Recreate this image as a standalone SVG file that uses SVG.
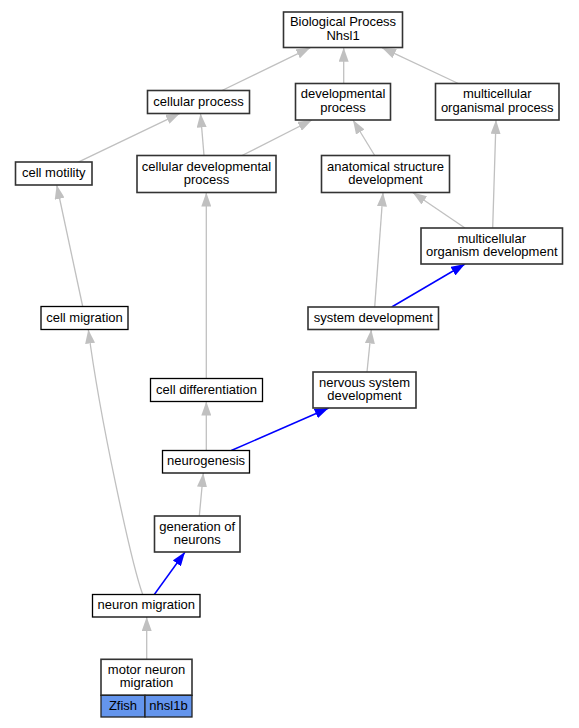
<svg xmlns="http://www.w3.org/2000/svg" width="579" height="728" viewBox="0 0 579 728">
<style>
text{font-family:"Liberation Sans",Arial,sans-serif;font-size:13px;fill:#000;text-anchor:middle}
.n{fill:#fff;stroke:#333;stroke-width:1.6}
.k{fill:#fff;stroke:#000;stroke-width:1.3}
.c{fill:#6495ED;stroke:#222;stroke-width:1.3}
.e{fill:none;stroke:#c0c0c0;stroke-width:1.3;marker-end:url(#ag)}
.b{fill:none;stroke:#0000ff;stroke-width:1.5;marker-end:url(#ab)}
</style>
<defs>
<marker id="ag" viewBox="0 0 14 10" refX="14" refY="5" markerWidth="14" markerHeight="10" markerUnits="userSpaceOnUse" orient="auto"><path d="M0,0L14,5L0,10z" fill="#c0c0c0"/></marker>
<marker id="ab" viewBox="0 0 14 10" refX="14" refY="5" markerWidth="14" markerHeight="10" markerUnits="userSpaceOnUse" orient="auto"><path d="M0,0L14,5L0,10z" fill="#0000ff"/></marker>
</defs>
<rect width="579" height="728" fill="#fff"/>
<g id="edges">
<path class="e" d="M222,90.5L310.3,47.7"/>
<path class="e" d="M343.7,83.5L343.7,47.7"/>
<path class="e" d="M458.3,83.5L382,47.7"/>
<path class="e" d="M77.7,162.3L180,113.3"/>
<path class="e" d="M204,155.5L200.5,113.5"/>
<path class="e" d="M242,155.5L312,120"/>
<path class="e" d="M374.7,155.5L353,120"/>
<path class="e" d="M492.7,228L496,120"/>
<path class="e" d="M465,228L412.7,192.5"/>
<path class="e" d="M82.7,306.5L56.7,185"/>
<path class="e" d="M374.7,307L383,192.5"/>
<path class="b" d="M391.7,307L465,264"/>
<path class="e" d="M206.3,378.5L206.3,192.5"/>
<path class="e" d="M367,372L371.3,329.5"/>
<path class="e" d="M206.3,450.5L206.3,401.5"/>
<path class="b" d="M231.3,450.5L328.7,408"/>
<path class="e" d="M199.3,516L203.3,473"/>
<path class="b" d="M154.3,594.5L185,552"/>
<path class="e" d="M142.7,594.5C132,565 100,420 88.3,329.5"/>
<path class="e" d="M146.7,659.3L146.7,617"/>
</g>
<g id="bio"><rect class="n" x="283.5" y="12" width="119" height="35.5"/><text x="343" y="26.3">Biological Process</text><text x="343" y="39.8">Nhsl1</text></g>
<g id="cellular_process"><rect class="n" x="147.5" y="90.5" width="102" height="23"/><text x="198.5" y="105.5">cellular process</text></g>
<g id="developmental_process"><rect class="n" x="295.5" y="83.5" width="95" height="36.5"/><text x="343" y="98.3">developmental</text><text x="343" y="111.8">process</text></g>
<g id="multicellular_organismal_process"><rect class="n" x="435.5" y="83.5" width="123.5" height="36.5"/><text x="497.25" y="98.3">multicellular</text><text x="497.25" y="111.8">organismal process</text></g>
<g id="cell_motility"><rect class="n" x="15.5" y="162" width="76.5" height="23"/><text x="53.75" y="177">cell motility</text></g>
<g id="cellular_developmental_process"><rect class="n" x="137" y="155.5" width="139" height="37"/><text x="206.5" y="170.5">cellular developmental</text><text x="206.5" y="184">process</text></g>
<g id="anatomical_structure_development"><rect class="n" x="321.5" y="155.5" width="128" height="37"/><text x="385.5" y="170.5">anatomical structure</text><text x="385.5" y="184">development</text></g>
<g id="multicellular_organism_development"><rect class="n" x="421" y="228" width="141.5" height="36"/><text x="491.75" y="242.5">multicellular</text><text x="491.75" y="256">organism development</text></g>
<g id="cell_migration"><rect class="k" x="41" y="306.5" width="87" height="23"/><text x="84.5" y="321.5">cell migration</text></g>
<g id="system_development"><rect class="n" x="308" y="307" width="130.5" height="22.5"/><text x="373.25" y="321.7">system development</text></g>
<g id="cell_differentiation"><rect class="k" x="150.5" y="378.5" width="112" height="23"/><text x="206.5" y="393.5">cell differentiation</text></g>
<g id="nervous_system_development"><rect class="n" x="313" y="372" width="103" height="36"/><text x="364.5" y="386.5">nervous system</text><text x="364.5" y="400">development</text></g>
<g id="neurogenesis"><rect class="k" x="162.5" y="450.5" width="87" height="22.5"/><text x="206" y="465.2">neurogenesis</text></g>
<g id="generation_of_neurons"><rect class="n" x="154.5" y="516" width="85.5" height="36"/><text x="197.25" y="530.5">generation of</text><text x="197.25" y="544">neurons</text></g>
<g id="neuron_migration"><rect class="k" x="92.5" y="594.5" width="107.5" height="22.5"/><text x="146.25" y="609.2">neuron migration</text></g>
<g id="motor_neuron_migration"><rect class="n" x="101" y="659.3" width="91" height="36"/><text x="146.5" y="673.8">motor neuron</text><text x="146.5" y="687.3">migration</text><rect class="c" x="101" y="695.3" width="44" height="21.7"/><rect class="c" x="145" y="695.3" width="47" height="21.7"/><text x="123" y="710.3">Zfish</text><text x="168.5" y="710.3">nhsl1b</text></g>
</svg>
